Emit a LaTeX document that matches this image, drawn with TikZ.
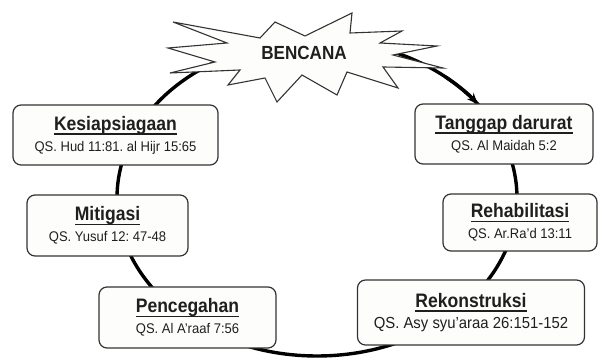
\documentclass[tikz,border=0pt]{standalone}
\usepackage{fontspec}
\setmainfont{Liberation Sans}
\newfontfamily\headsans[FakeStretch=0.9]{Liberation Sans}
\newfontfamily\versesans[FakeStretch=0.93]{Liberation Sans}
\usetikzlibrary{arrows.meta}
\frenchspacing

\definecolor{boxline}{HTML}{333333}
\definecolor{boxfill}{HTML}{FDFDFB}

\newsavebox\titlebox
\newcommand\stagetitle[1]{%
  \sbox\titlebox{\bfseries #1}%
  \rlap{\rule[-4.5pt]{\wd\titlebox}{1.4pt}}\usebox\titlebox}
\newcommand\versefont[1]{\versesans\fontsize{#1}{20}\selectfont}

\tikzset{
  ring/.style={line width=3.4pt, black},
  stagebox/.style={draw=boxline, fill=boxfill, line width=1.2pt,
    rounded corners=8pt, align=center, inner sep=0pt, text=black!88,
    font=\headsans\fontsize{19.5}{21}\selectfont},
  burstline/.style={draw=boxline, fill=boxfill, line width=1.1pt, line join=miter},
}

\begin{document}
\begin{tikzpicture}[x=1pt, y=1pt]
  \useasboundingbox (0,0) rectangle (598,358);

  % cycle
  \coordinate (hub) at (317,160);
  \draw[ring] (hub) ellipse [x radius=200pt, y radius=158pt];
  \draw[ring, -{Stealth[length=11pt, width=9pt]}] (hub) ++(50:200pt and 158pt)
    arc [start angle=50, end angle=36.5, x radius=200pt, y radius=158pt];

  % burst
  \draw[burstline] (173,336) -- (260,320) -- (275,336) -- (305,322) -- (352,345)
    -- (350,325) -- (402,327) -- (380,315) -- (437,312) -- (393,303) -- (443,290)
    -- (383,291) -- (398,270) -- (347,286) -- (337,263) -- (302,283) -- (277,256)
    -- (265,280) -- (228,273) -- (240,288) -- (170,285) -- (215,296) -- (168,310)
    -- (227,315) -- cycle;
  \node[font=\headsans\fontsize{19}{21}\selectfont\bfseries, text=black!88]
    (bencana) at (304,305) {BENCANA};

  % stages
  \foreach \name/\x/\y/\w/\h/\vs/\title/\verse in {
      kesiap/115.5/223/205/60/14/Kesiapsiagaan/QS. Hud 11:81. al Hijr 15:65,
      tanggap/504/224/178/60/14/Tanggap darurat/QS. Al Maidah 5:2,
      mitigasi/107.5/132.5/161/61/14/Mitigasi/QS. Yusuf 12: 47-48,
      rehab/520/135.5/154/57/14/Rehabilitasi/QS. Ar.Ra’d 13:11,
      cegah/187.5/40.5/177/61/14/Pencegahan/QS. Al A’raaf 7:56,
      rekon/471/45.5/227/65/16/Rekonstruksi/QS. Asy syu’araa 26:151-152} {
    \node[stagebox, minimum width=\w pt, minimum height=\h pt] (\name) at (\x,\y)
      {\stagetitle{\title}\\ \versefont{\vs}\verse};
  }
\end{tikzpicture}
\end{document}
